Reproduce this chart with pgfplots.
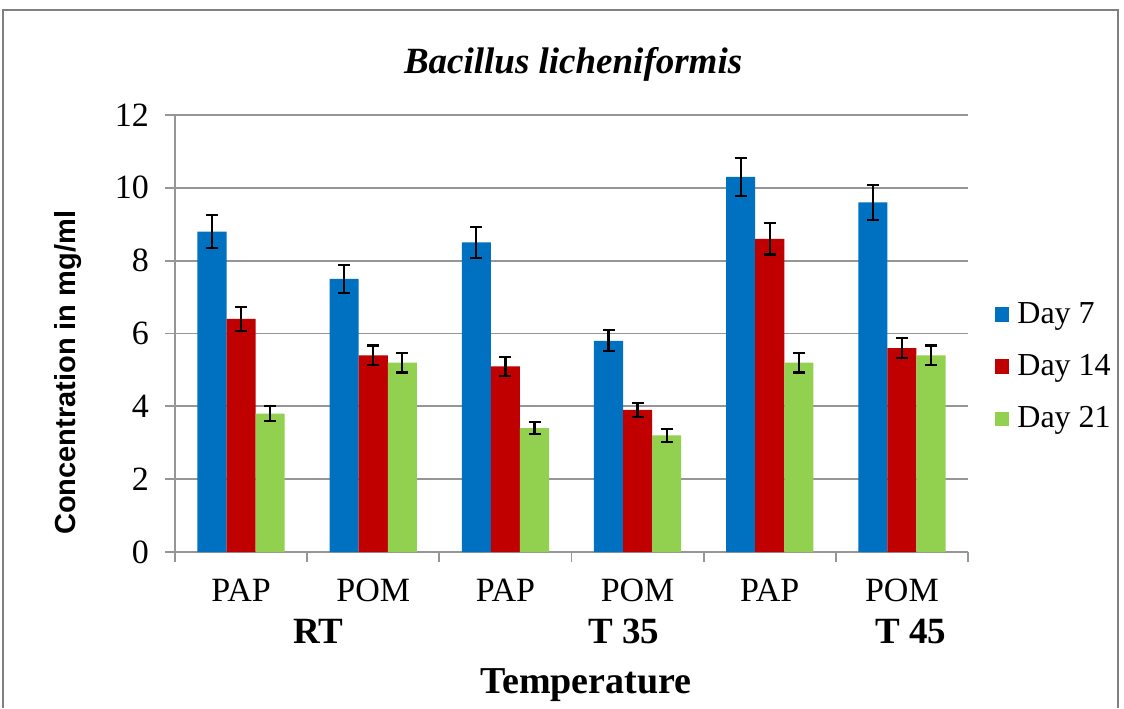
\documentclass[border=0pt]{standalone}
\usepackage{fontspec}
\setmainfont{Liberation Serif}
\newfontfamily\labsans{Liberation Sans}
\usepackage{pgfplots}
\usepackage{pgfplotstable}
\pgfplotsset{compat=1.18}

\definecolor{dayblue}{RGB}{0,112,192}
\definecolor{dayred}{RGB}{192,0,0}
\definecolor{daygreen}{RGB}{146,208,80}
\definecolor{gridgray}{RGB}{150,150,150}
\definecolor{framegray}{RGB}{128,128,128}

% x: 0..5 = RT-PAP, RT-POM, T35-PAP, T35-POM, T45-PAP, T45-POM
\pgfplotstableread{
x y e
0 8.8 0.45
1 7.5 0.38
2 8.5 0.43
3 5.8 0.29
4 10.3 0.52
5 9.6 0.48
}\daySeven
\pgfplotstableread{
x y e
0 6.4 0.33
1 5.4 0.27
2 5.1 0.26
3 3.9 0.20
4 8.6 0.43
5 5.6 0.28
}\dayFourteen
\pgfplotstableread{
x y e
0 3.8 0.20
1 5.2 0.27
2 3.4 0.17
3 3.2 0.18
4 5.2 0.27
5 5.4 0.27
}\dayTwentyOne

\begin{document}
\begin{tikzpicture}
\begin{axis}[
  scale only axis,
  width=396.5pt, height=218.5pt,
  clip=false,
  ybar, bar width=0.22,
  xmin=-0.5, xmax=5.5, ymin=0, ymax=12,
  axis x line=bottom, axis y line=left,
  axis line style={-, draw=gridgray, line width=0.9pt},
  ytick={0,2,...,12},
  ymajorgrids, grid style={draw=gridgray, line width=0.9pt},
  tick align=outside,
  major tick length=5pt,
  tick style={draw=gridgray, line width=0.9pt},
  xtick={-0.5,0.5,...,5.5}, xticklabels={},
  extra x ticks={0,1,2,3,4,5},
  extra x tick labels={PAP,POM,PAP,POM,PAP,POM},
  extra x tick style={major tick length=0pt, tick style={draw=none},
    xticklabel style={yshift=-10pt}},
  ticklabel style={font=\fontsize{17}{20}\selectfont},
  yticklabel style={xshift=-4.5pt},
  /pgf/number format/assume math mode=true,
  legend style={draw=none, fill=none, at={(rel axis cs:1.026,0.59)}, anchor=north west,
    font=\fontsize{16}{19}\selectfont, row sep=10pt,
    /tikz/every odd column/.style={}},
  legend cell align=left,
  legend image code/.code={\fill[#1] (0pt,-3.6pt) rectangle (7.2pt,3.6pt);},
  error bars/y dir=both, error bars/y explicit,
  error bars/error bar style={black, line width=1.1pt},
  error bars/error mark options={rotate=90, black, mark size=3pt, line width=1.1pt},
]
\addplot[fill=dayblue, draw=none, bar shift=-0.22] table[x=x, y=y, y error=e] {\daySeven};
\addlegendentry{\hspace{2pt}Day 7}
\addplot[fill=dayred, draw=none, bar shift=0] table[x=x, y=y, y error=e] {\dayFourteen};
\addlegendentry{\hspace{2pt}Day 14}
\addplot[fill=daygreen, draw=none, bar shift=0.22] table[x=x, y=y, y error=e] {\dayTwentyOne};
\addlegendentry{\hspace{2pt}Day 21}

% group labels
\node[font=\fontsize{18.5}{21}\bfseries\selectfont] at (rel axis cs:0.181,-0.182) {RT};
\node[font=\fontsize{18.5}{21}\bfseries\selectfont] at (rel axis cs:0.566,-0.182) {T 35};
\node[font=\fontsize{18.5}{21}\bfseries\selectfont] at (rel axis cs:0.928,-0.182) {T 45};
\node[font=\fontsize{19}{22}\bfseries\selectfont] at (rel axis cs:0.518,-0.305) {Temperature};
% y label
\node[font=\labsans\fontsize{14.5}{17}\bfseries\selectfont, rotate=90] at (rel axis cs:-0.135,0.41) {Concentration in mg/ml};
% title
\node[font=\fontsize{18.5}{22}\bfseries\itshape\selectfont] at (rel axis cs:0.502,1.115) {Bacillus licheniformis};

\coordinate (bl) at (rel axis cs:-0.2207,-0.357);
\coordinate (tr) at (rel axis cs:1.1967,1.2632);
\coordinate (fl) at (rel axis cs:-0.2169,1.2403);
\coordinate (fr) at (rel axis cs:1.1892,1.2403);
\coordinate (fbl) at (rel axis cs:-0.2169,-0.357);
\coordinate (fbr) at (rel axis cs:1.1892,-0.357);
\end{axis}
\draw[framegray, line width=0.8pt] (fbl) -- (fl) -- (fr) -- (fbr);
\pgfresetboundingbox
\useasboundingbox (bl) rectangle (tr);
\end{tikzpicture}
\end{document}
